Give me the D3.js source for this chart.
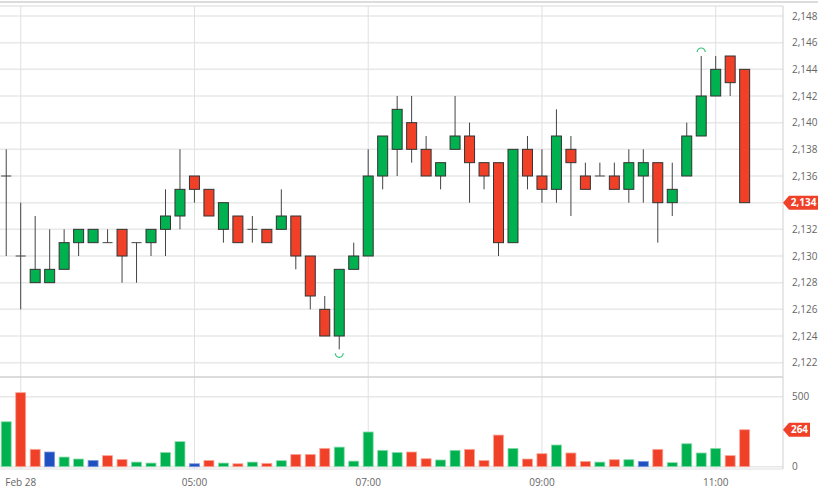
<!DOCTYPE html>
<html><head><meta charset="utf-8">
<script src="https://cdn.jsdelivr.net/npm/d3@7/dist/d3.min.js"></script>
<style>body{margin:0;background:#fff;}svg{display:block;font-family:"Open Sans",sans-serif;}</style>
</head><body>
<svg id="c" width="839" height="488"></svg>
<script>
const times = ["02:50","03:00","03:10","03:20","03:30","03:40","03:50","04:00","04:10","04:20","04:30","04:40","04:50",
"05:00","05:10","05:20","05:30","05:40","05:50","06:00","06:10","06:20","06:30","06:40","06:50",
"07:00","07:10","07:20","07:30","07:40","07:50","08:00","08:10","08:20","08:30","08:40","08:50",
"09:00","09:10","09:20","09:30","09:40","09:50","10:00","10:10","10:20","10:30","10:40","10:50",
"11:00","11:10","11:20"];
const open  = [2136,2130,2128,2128,2129,2131,2131,2131,2132,2131,2131,2132,2133,2136,2135,2132,2133,2132,2132,2132,2133,2130,2126,2124,2129,2130,2136,2138,2140,2138,2136,2138,2139,2137,2137,2131,2138,2136,2135,2138,2136,2136,2136,2135,2136,2137,2134,2136,2139,2142,2145,2144];
const high  = [2138,2134,2133,2132,2132,2132,2132,2132,2132,2131,2132,2135,2138,2136,2135,2134,2133,2133,2132,2135,2133,2130,2127,2129,2131,2138,2139,2142,2142,2139,2137,2142,2140,2137,2137,2138,2139,2138,2141,2139,2137,2137,2137,2138,2138,2137,2137,2140,2145,2145,2145,2144];
const low   = [2130,2126,2128,2128,2129,2130,2131,2131,2128,2128,2130,2130,2132,2134,2133,2131,2131,2131,2131,2132,2129,2126,2124,2123,2129,2130,2135,2136,2137,2136,2135,2138,2134,2135,2130,2131,2135,2134,2134,2133,2135,2136,2135,2134,2134,2131,2133,2136,2139,2142,2142,2134];
const close = [2136,2130,2129,2129,2131,2132,2132,2131,2130,2131,2132,2133,2135,2135,2133,2134,2131,2132,2131,2133,2130,2127,2124,2129,2130,2136,2139,2141,2138,2136,2137,2139,2137,2136,2131,2138,2136,2135,2139,2137,2135,2136,2135,2137,2137,2134,2135,2139,2142,2144,2143,2134];
const volume = [321,529,124,105,69,55,45,79,52,33,26,102,179,21,45,26,21,33,24,43,88,88,131,140,40,248,117,102,105,57,48,117,124,45,226,131,55,93,155,98,38,33,50,50,38,124,29,164,98,131,79,264];
const volColor = ["g","r","r","b","g","g","b","r","r","g","g","g","g","b","r","g","r","g","r","g","r","r","r","g","g","g","g","g","r","r","g","g","r","r","r","g","r","r","g","r","r","g","r","g","b","r","g","g","g","g","r","r"];
const priceTicks = [2122,2124,2126,2128,2130,2132,2134,2136,2138,2140,2142,2144,2146,2148];
const volTicks = [0,500];
const timeTicks = ["03:00","05:00","07:00","09:00","11:00"];
const timeTickLabels = ["Feb 28","05:00","07:00","09:00","11:00"];

const parse = s => new Date(Date.UTC(2023,1,28,+s.slice(0,2),+s.slice(3,5)));
const data = times.map((t,i)=>({t:parse(t),o:open[i],h:high[i],l:low[i],c:close[i],v:volume[i],vc:volColor[i]}));

const svg = d3.select("#c");
const W = 783;
const x = d3.scaleTime().domain([parse("03:00"), parse("11:00")]).range([20.7, 715.7]);
const y = d3.scaleLinear().domain([2122,2148]).range([362.67,16]);
const yv = d3.scaleLinear().domain([0,500]).range([466.7,396.7]);
const GREEN="#00b14f", RED="#f04128", BLUE="#1f4fc0";
const colMap={g:GREEN,r:RED,b:BLUE};
const strokeMap={g:"#8fdcaf",r:"#f8a89a",b:"#7f9ae0"};

// frame lines
svg.append("line").attr("x1",0).attr("x2",818).attr("y1",2).attr("y2",2).attr("stroke","#d0d0d0").attr("stroke-width",1.5);
svg.append("line").attr("x1",0).attr("x2",W).attr("y1",6).attr("y2",6).attr("stroke","#d8d8d8").attr("stroke-width",1);

// price grid
svg.append("g").selectAll("line").data(priceTicks).join("line")
  .attr("x1",0).attr("x2",W).attr("y1",d=>y(d)).attr("y2",d=>y(d))
  .attr("stroke","#e8e8e8").attr("stroke-width",1.5);
// vol grid
svg.append("g").selectAll("line").data(volTicks).join("line")
  .attr("x1",0).attr("x2",W).attr("y1",d=>yv(d)).attr("y2",d=>yv(d))
  .attr("stroke","#e8e8e8").attr("stroke-width",1.5);
// vertical grid
svg.append("g").selectAll("line").data(timeTicks).join("line")
  .attr("x1",d=>x(parse(d))).attr("x2",d=>x(parse(d))).attr("y1",6).attr("y2",469)
  .attr("stroke","#e0e0e0").attr("stroke-width",1);

// pane separators
svg.append("line").attr("x1",0).attr("x2",W).attr("y1",377).attr("y2",377).attr("stroke","#d0d0d0").attr("stroke-width",1.5);
svg.append("line").attr("x1",0).attr("x2",W).attr("y1",469).attr("y2",469).attr("stroke","#e0e0e0").attr("stroke-width",1);
svg.append("line").attr("x1",W).attr("x2",W).attr("y1",6).attr("y2",469).attr("stroke","#d0d0d0").attr("stroke-width",1);

const bw = 10;
// candles
const cg = svg.append("g");
cg.selectAll("line.w").data(data).join("line").attr("class","w")
  .attr("x1",d=>x(d.t)).attr("x2",d=>x(d.t)).attr("y1",d=>y(d.h)).attr("y2",d=>y(d.l))
  .attr("stroke","#444").attr("stroke-width",1);
cg.selectAll("rect").data(data.filter(d=>d.o!==d.c)).join("rect")
  .attr("x",d=>x(d.t)-bw/2).attr("width",bw)
  .attr("y",d=>y(Math.max(d.o,d.c))).attr("height",d=>Math.abs(y(d.o)-y(d.c)))
  .attr("fill",d=>d.c>d.o?GREEN:RED).attr("stroke","#333").attr("stroke-width",1);
cg.selectAll("line.d").data(data.filter(d=>d.o===d.c)).join("line").attr("class","d")
  .attr("x1",d=>x(d.t)-bw/2).attr("x2",d=>x(d.t)+bw/2).attr("y1",d=>y(d.c)).attr("y2",d=>y(d.c))
  .attr("stroke","#444").attr("stroke-width",1);

// high / low markers
const hi = data.reduce((a,b)=>b.h>a.h?b:a), lo = data.reduce((a,b)=>b.l<a.l?b:a);
const arc = d3.arc().innerRadius(4).outerRadius(4);
svg.append("path").attr("transform",`translate(${x(hi.t)},${y(hi.h)-4})`)
  .attr("d",d3.arc()({innerRadius:4,outerRadius:4,startAngle:-Math.PI/2,endAngle:Math.PI/2}))
  .attr("fill","none").attr("stroke","#3cc47a").attr("stroke-width",1.2);
svg.append("path").attr("transform",`translate(${x(lo.t)},${y(lo.l)+4})`)
  .attr("d",d3.arc()({innerRadius:4,outerRadius:4,startAngle:Math.PI/2,endAngle:Math.PI*1.5}))
  .attr("fill","none").attr("stroke","#3cc47a").attr("stroke-width",1.2);

// volume bars
svg.append("g").selectAll("rect").data(data).join("rect")
  .attr("x",d=>x(d.t)-bw/2).attr("width",bw)
  .attr("y",d=>yv(d.v)).attr("height",d=>yv(0)-yv(d.v))
  .attr("fill",d=>colMap[d.vc]).attr("stroke",d=>strokeMap[d.vc]).attr("stroke-width",0.8);

// axis labels
const fmt = d3.format(",");
svg.append("g").selectAll("text").data(priceTicks).join("text")
  .attr("x",792).attr("y",d=>y(d)).attr("dy","0.35em").attr("font-size",10).attr("fill","#666").text(d=>fmt(d));
svg.append("g").selectAll("text").data(volTicks).join("text")
  .attr("x",792).attr("y",d=>yv(d)).attr("dy","0.35em").attr("font-size",10).attr("fill","#666").text(d=>d);
svg.append("g").selectAll("text").data(timeTicks).join("text")
  .attr("x",d=>x(parse(d))).attr("y",482).attr("dy","0.35em").attr("text-anchor","middle")
  .attr("font-size",10).attr("fill","#666").text((d,i)=>timeTickLabels[i]);

// last value tags
function tag(yc, x2, label){
  svg.append("path").attr("d",`M${W},${yc} L${W+6},${yc-7} L${x2},${yc-7} L${x2},${yc+7} L${W+6},${yc+7} Z`).attr("fill",RED);
  svg.append("text").attr("x",(W+6+x2)/2).attr("y",yc).attr("dy","0.35em").attr("text-anchor","middle")
    .attr("font-size",10).attr("font-weight","bold").attr("fill","#fff").text(label);
}
const last = data[data.length-1];
tag(y(last.c), 818, fmt(last.c));
tag(yv(last.v), 810, String(last.v));
</script>
</body></html>
